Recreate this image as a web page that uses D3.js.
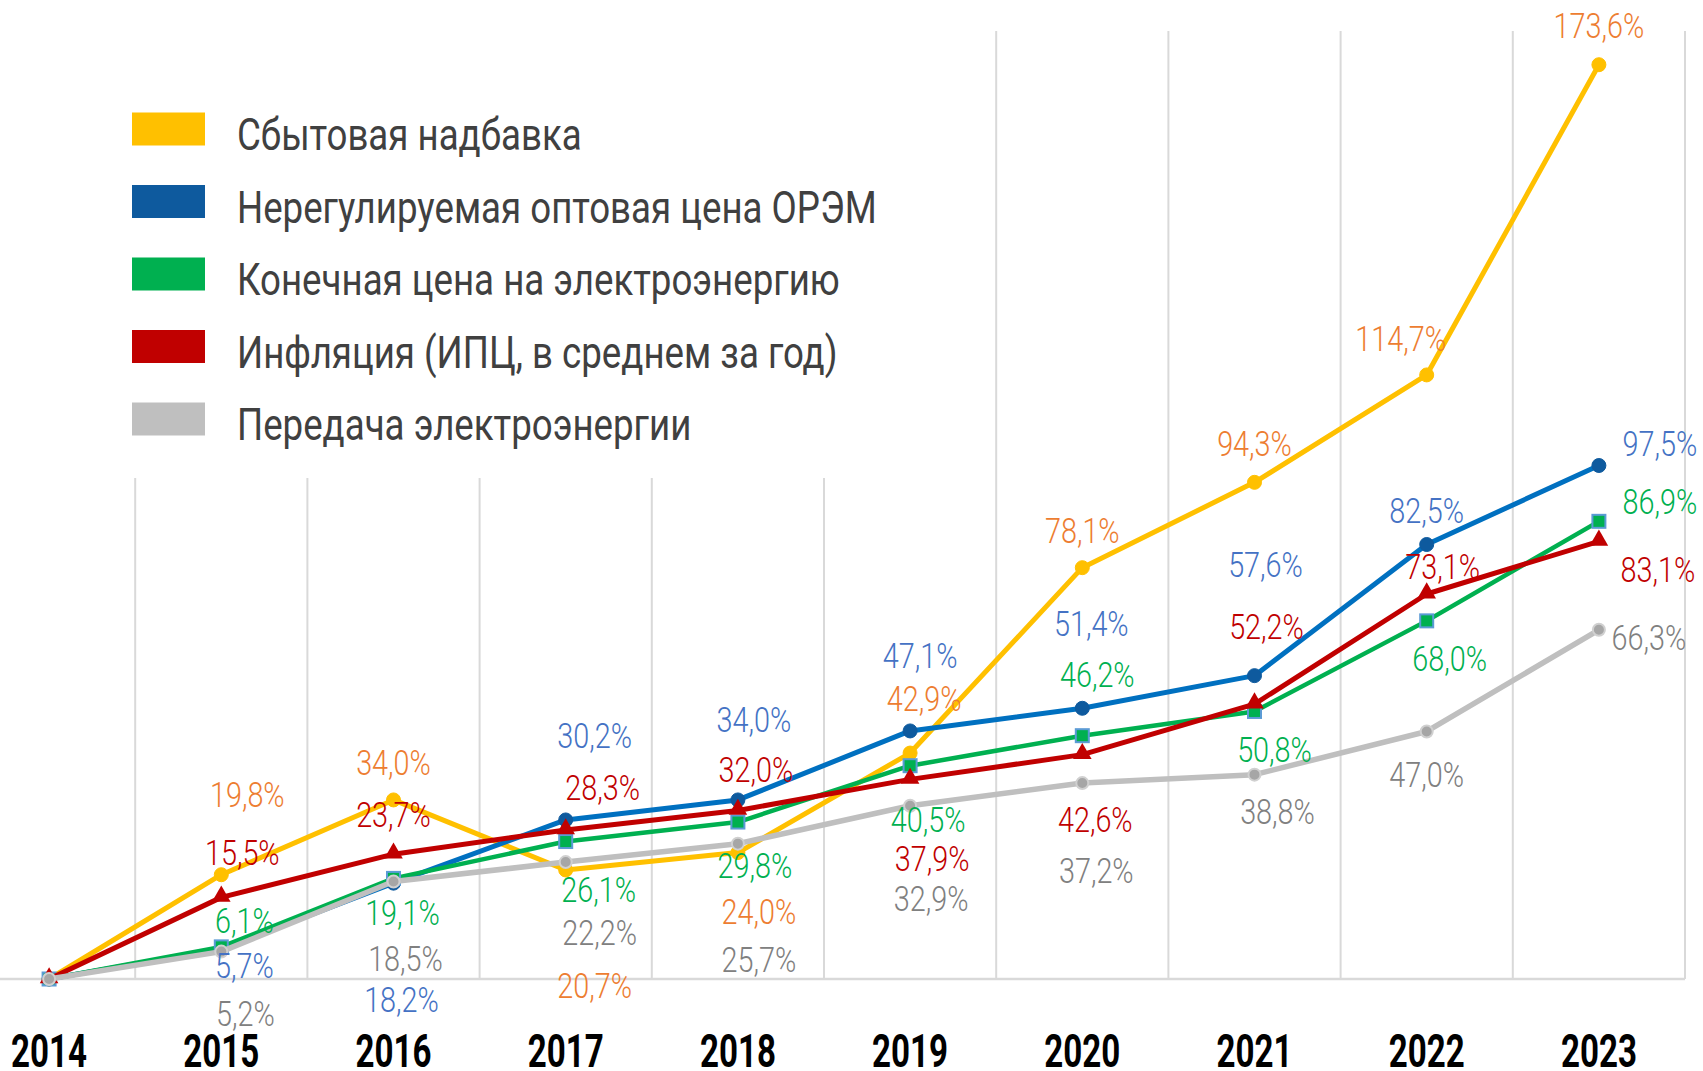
<!DOCTYPE html>
<html>
<head>
<meta charset="utf-8">
<script src="https://cdn.jsdelivr.net/npm/d3@7"></script>
<style>
  body { margin: 0; background: #fff; }
  svg { display: block; }
  text { font-family: Roboto, "Noto Sans", sans-serif; }
</style>
</head>
<body>
<div id="main"></div>
<script>
// data
var years = ["2014", "2015", "2016", "2017", "2018", "2019", "2020", "2021", "2022", "2023"];
var seriesNames = [
	"Сбытовая надбавка",
	"Нерегулируемая оптовая цена ОРЭМ",
	"Конечная цена на электроэнергию",
	"Инфляция (ИПЦ, в среднем за год)",
	"Передача электроэнергии"
];
var sbyt      = [0, 19.8, 34.0, 20.7, 24.0, 42.9, 78.1, 94.3, 114.7, 173.6];
var orem      = [0, 5.7, 18.2, 30.2, 34.0, 47.1, 51.4, 57.6, 82.5, 97.5];
var konech    = [0, 6.1, 19.1, 26.1, 29.8, 40.5, 46.2, 50.8, 68.0, 86.9];
var inflation = [0, 15.5, 23.7, 28.3, 32.0, 37.9, 42.6, 52.2, 73.1, 83.1];
var peredacha = [0, 5.2, 18.5, 22.2, 25.7, 32.9, 37.2, 38.8, 47.0, 66.3];

// label placement (dx, dy from point), 2014 has no label
var labelShift = [
	[null, [26,-81], [0,-38], [29,115], [21,58], [14,-55], [0,-38], [0,-39], [-26,-37], [0,-40]],
	[null, [23,16], [8,116], [29,-85], [16,-81], [10,-76], [9,-85], [11,-112], [0,-34], [61,-22]],
	[null, [23,-27], [9,34], [33,47], [17,43], [18,53], [15,-62], [20,38], [23,37], [61,-20]],
	[null, [21,-45], [0,-40], [37,-43], [18,-41], [22,79], [13,64], [12,-78], [16,-28], [59,28]],
	[null, [24,61], [12,76], [34,70], [21,115], [21,92], [14,87], [23,36], [0,43], [50,7]]
];

var w = 1703, h = 1071;

var series = [
	{ name: seriesNames[0], values: sbyt, line: "#FFC000", swatch: "#FFC000", label: "#ED7D31", width: 5, marker: "circle", mfill: "#FFC000", mstroke: "#FFC000" },
	{ name: seriesNames[1], values: orem, line: "#0070C0", swatch: "#0E5A9E", label: "#4472C4", width: 5, marker: "circle", mfill: "#0E5A9E", mstroke: "#0E5A9E" },
	{ name: seriesNames[2], values: konech, line: "#00B050", swatch: "#00B050", label: "#00B050", width: 4.5, marker: "square", mfill: "#00B050", mstroke: "#5B9BD5" },
	{ name: seriesNames[3], values: inflation, line: "#C00000", swatch: "#C00000", label: "#C00000", width: 5, marker: "triangle", mfill: "#C00000", mstroke: "#C00000" },
	{ name: seriesNames[4], values: peredacha, line: "#BFBFBF", swatch: "#BFBFBF", label: "#808080", width: 5.5, marker: "circle", mfill: "#A6A6A6", mstroke: "#D0D0D0" }
];

var x = d3.scaleBand()
	.domain(years)
	.range([-37, 1685]);

var y = d3.scaleLinear()
	.domain([0, 180])
	.range([979, 31]);

function cx(d) { return x(d) + x.bandwidth() / 2; }

// narrow the text horizontally (source font is a condensed DIN)
function squeeze(px, py, sx) {
	return "translate(" + px + "," + py + ") scale(" + sx + ",1)";
}

var svg = d3.select("#main")
	.append("svg")
	.attr("width", w)
	.attr("height", h);

// vertical gridlines at category edges
svg.append("g")
	.selectAll("line")
	.data(years)
	.enter()
	.append("line")
	.attr("x1", function(d) { return x(d) + x.bandwidth(); })
	.attr("x2", function(d) { return x(d) + x.bandwidth(); })
	.attr("y1", y(180))
	.attr("y2", y(0))
	.attr("stroke", "#D9D9D9")
	.attr("stroke-width", 2);

// baseline
svg.append("line")
	.attr("x1", 0)
	.attr("x2", x.range()[1])
	.attr("y1", y(0))
	.attr("y2", y(0))
	.attr("stroke", "#D9D9D9")
	.attr("stroke-width", 2.5);

// year labels
svg.append("g")
	.selectAll("text")
	.data(years)
	.enter()
	.append("text")
	.attr("transform", function(d) { return squeeze(cx(d), 1067, 0.72); })
	.attr("text-anchor", "middle")
	.attr("font-size", 46)
	.attr("font-weight", "bold")
	.attr("fill", "#000")
	.text(function(d) { return d; });

// legend box (covers gridlines)
var legend = svg.append("g");
legend.append("rect")
	.attr("x", 0)
	.attr("y", 0)
	.attr("width", 945)
	.attr("height", 478)
	.attr("fill", "#fff");

var legendRow = d3.scaleLinear().domain([0, 4]).range([129, 419]);

series.forEach(function(s, i) {
	legend.append("rect")
		.attr("x", 132)
		.attr("y", legendRow(i) - 16.5)
		.attr("width", 73)
		.attr("height", 33)
		.attr("fill", s.swatch);
	legend.append("text")
		.attr("transform", squeeze(237, legendRow(i) + 21, 0.815))
		.attr("font-size", 45)
		.attr("fill", "#404040")
		.text(s.name);
});

var line = d3.line()
	.x(function(d, i) { return cx(years[i]); })
	.y(function(d) { return y(d); });

var tri = d3.symbol().type(d3.symbolTriangle).size(150);

series.forEach(function(s, si) {
	var g = svg.append("g");
	g.append("path")
		.datum(s.values)
		.attr("d", line)
		.attr("fill", "none")
		.attr("stroke", s.line)
		.attr("stroke-width", s.width)
		.attr("stroke-linejoin", "round");

	var pts = g.selectAll(".m")
		.data(s.values)
		.enter();

	if (s.marker === "circle") {
		pts.append("circle")
			.attr("cx", function(d, i) { return cx(years[i]); })
			.attr("cy", function(d) { return y(d); })
			.attr("r", si === 4 ? 6 : 7)
			.attr("fill", s.mfill)
			.attr("stroke", s.mstroke)
			.attr("stroke-width", si === 4 ? 2 : 1);
	} else if (s.marker === "square") {
		pts.append("rect")
			.attr("x", function(d, i) { return cx(years[i]) - 6.5; })
			.attr("y", function(d) { return y(d) - 6.5; })
			.attr("width", 13)
			.attr("height", 13)
			.attr("fill", s.mfill)
			.attr("stroke", s.mstroke)
			.attr("stroke-width", 2);
	} else {
		pts.append("path")
			.attr("d", tri)
			.attr("transform", function(d, i) { return "translate(" + cx(years[i]) + "," + (y(d) - 1) + ")"; })
			.attr("fill", s.mfill);
	}
});

// data labels on top
var fmt = function(v) { return d3.format(".1f")(v).replace(".", ",") + "%"; };

series.forEach(function(s, si) {
	var items = s.values.map(function(v, i) { return { v: v, i: i, shift: labelShift[si][i] }; })
		.filter(function(d) { return d.shift; });
	svg.append("g")
		.selectAll("text")
		.data(items)
		.enter()
		.append("text")
		.attr("transform", function(d) {
			return squeeze(cx(years[d.i]) + d.shift[0], y(d.v) + d.shift[1], 0.8);
		})
		.attr("dy", "0.36em")
		.attr("text-anchor", "middle")
		.attr("font-size", 36)
		.attr("font-weight", 300)
		.attr("fill", s.label)
		.text(function(d) { return fmt(d.v); });
});
</script>
</body>
</html>
